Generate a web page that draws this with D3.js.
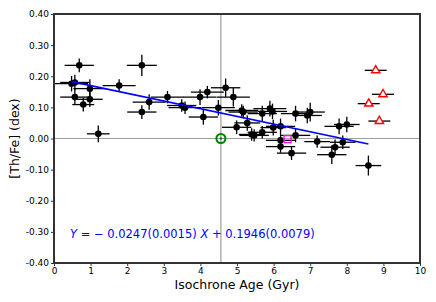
<!DOCTYPE html>
<html>
<head>
<meta charset="utf-8">
<script src="https://cdn.jsdelivr.net/npm/d3@7"></script>
<style>
  body { margin: 0; background: #fff; }
  text { font-family: "DejaVu Sans", sans-serif; }
</style>
</head>
<body>
<div id="chart"></div>
<script>
const width = 436;
const height = 302;
const margin = {top: 14, right: 16, bottom: 39, left: 54};

// solar twins: isochrone age (Gyr) vs [Th/Fe]
const age    = [0.69, 2.40, 0.48, 0.57, 0.98, 1.78, 0.57, 0.98, 0.80, 1.21, 2.40, 2.60, 3.10, 3.58, 3.49, 3.99, 4.19, 4.08, 4.49, 4.69,
                4.90, 5.13, 5.17, 4.99, 5.28, 5.40, 5.47, 5.69, 5.69, 5.90, 5.97, 5.99, 6.19, 6.19, 6.60, 6.60, 6.92, 7.00, 7.19, 7.79,
                8.00, 7.89, 7.68, 6.19, 6.49, 7.59, 8.59];
const thfe   = [0.235, 0.235, 0.176, 0.180, 0.160, 0.170, 0.133, 0.126, 0.109, 0.015, 0.085, 0.117, 0.133, 0.099, 0.106, 0.133, 0.149, 0.069, 0.099, 0.163,
                0.133, 0.090, 0.085, 0.036, 0.050, 0.013, 0.010, 0.080, 0.020, 0.096, 0.087, 0.035, 0.039, -0.006, 0.080, 0.010, 0.074, 0.085, -0.010, 0.039,
                0.045, -0.012, -0.028, -0.026, -0.047, -0.052, -0.087];
const ageErr = [0.40, 0.41, 0.45, 0.40, 0.45, 0.45, 0.40, 0.35, 0.30, 0.31, 0.40, 0.45, 0.45, 0.45, 0.40, 0.45, 0.45, 0.40, 0.45, 0.40,
                0.45, 0.45, 0.40, 0.40, 0.35, 0.35, 0.40, 0.40, 0.40, 0.45, 0.40, 0.35, 0.40, 0.40, 0.40, 0.40, 0.40, 0.40, 0.35, 0.40,
                0.35, 0.35, 0.40, 0.40, 0.40, 0.40, 0.35];
const thfeErr = [0.022, 0.034, 0.025, 0.025, 0.030, 0.020, 0.025, 0.025, 0.022, 0.027, 0.022, 0.025, 0.020, 0.020, 0.020, 0.025, 0.020, 0.025, 0.025, 0.030,
                 0.030, 0.020, 0.020, 0.022, 0.025, 0.020, 0.020, 0.025, 0.020, 0.025, 0.025, 0.025, 0.025, 0.020, 0.025, 0.022, 0.025, 0.030, 0.020, 0.025,
                 0.025, 0.022, 0.025, 0.020, 0.022, 0.030, 0.032];

// old outliers (open triangles, no vertical error)
const oldAge    = [8.79, 8.99, 8.60, 8.89];
const oldThfe   = [0.219, 0.142, 0.112, 0.056];
const oldAgeErr = [0.30, 0.30, 0.30, 0.30];

// Sun and one reference star
const sun = {age: 4.56, thfe: 0.0};
const refStar = {age: 6.38, thfe: -0.002};

// linear fit
const slope = -0.0247, intercept = 0.1946;
const fitRange = [0.48, 8.59];

const xTicks = d3.range(0, 11, 1);
const yTicks = [0.40, 0.30, 0.20, 0.10, 0.00, -0.10, -0.20, -0.30, -0.40];

const x = d3.scaleLinear().domain([0, 10]).range([margin.left, width - margin.right]);
const y = d3.scaleLinear().domain([-0.4, 0.4]).range([height - margin.bottom, margin.top]);

const svg = d3.select("#chart").append("svg")
  .attr("width", width)
  .attr("height", height);

// reference lines
svg.append("line")
  .attr("x1", x(0)).attr("x2", x(10))
  .attr("y1", y(0)).attr("y2", y(0))
  .attr("stroke", "#9aa09a").attr("stroke-width", 1.2);
svg.append("line")
  .attr("x1", x(sun.age)).attr("x2", x(sun.age))
  .attr("y1", y(-0.4)).attr("y2", y(0.4))
  .attr("stroke", "#9aa09a").attr("stroke-width", 1.2);

const pts = age.map((a, i) => ({a, v: thfe[i], ea: ageErr[i], ev: thfeErr[i]}));

// error bars
const eb = svg.append("g").attr("stroke", "#000").attr("stroke-width", 1.3);
eb.selectAll("line.h")
  .data(pts)
  .join("line")
  .attr("class", "h")
  .attr("x1", d => x(d.a - d.ea)).attr("x2", d => x(d.a + d.ea))
  .attr("y1", d => y(d.v)).attr("y2", d => y(d.v));
eb.selectAll("line.v")
  .data(pts)
  .join("line")
  .attr("class", "v")
  .attr("x1", d => x(d.a)).attr("x2", d => x(d.a))
  .attr("y1", d => y(d.v - d.ev)).attr("y2", d => y(d.v + d.ev));

svg.append("g")
  .selectAll("circle")
  .data(pts)
  .join("circle")
  .attr("cx", d => x(d.a))
  .attr("cy", d => y(d.v))
  .attr("r", 3.3)
  .attr("fill", "#000");

// triangles
const old = oldAge.map((a, i) => ({a, v: oldThfe[i], ea: oldAgeErr[i]}));
svg.append("g")
  .selectAll("line")
  .data(old)
  .join("line")
  .attr("x1", d => x(d.a - d.ea)).attr("x2", d => x(d.a + d.ea))
  .attr("y1", d => y(d.v)).attr("y2", d => y(d.v))
  .attr("stroke", "#000").attr("stroke-width", 1.3);
svg.append("g")
  .selectAll("path")
  .data(old)
  .join("path")
  .attr("transform", d => `translate(${x(d.a)},${y(d.v)})`)
  .attr("d", d3.symbol(d3.symbolTriangle, 30))
  .attr("fill", "#fff")
  .attr("stroke", "red")
  .attr("stroke-width", 1.4);

// fit line
svg.append("line")
  .attr("x1", x(fitRange[0])).attr("y1", y(intercept + slope * fitRange[0]))
  .attr("x2", x(fitRange[1])).attr("y2", y(intercept + slope * fitRange[1]))
  .attr("stroke", "#0000ff").attr("stroke-width", 1.6);

// reference star (open magenta square)
svg.append("rect")
  .attr("x", x(refStar.age) - 3.5).attr("y", y(refStar.thfe) - 3.5)
  .attr("width", 7).attr("height", 7)
  .attr("fill", "none").attr("stroke", "#ff00ff").attr("stroke-width", 1.3);

// sun symbol
svg.append("circle")
  .attr("cx", x(sun.age)).attr("cy", y(sun.thfe)).attr("r", 4.5)
  .attr("fill", "none").attr("stroke", "#008000").attr("stroke-width", 2);
svg.append("circle")
  .attr("cx", x(sun.age)).attr("cy", y(sun.thfe)).attr("r", 1.2)
  .attr("fill", "#008000");

// axes
const xAxis = svg.append("g")
  .attr("transform", `translate(0,${height - margin.bottom})`)
  .call(d3.axisBottom(x).tickValues(xTicks).tickSize(3).tickPadding(2).tickFormat(d3.format("d")));
const yAxis = svg.append("g")
  .attr("transform", `translate(${margin.left},0)`)
  .call(d3.axisLeft(y).tickValues(yTicks).tickSize(3).tickPadding(2).tickFormat(d => d3.format(".2f")(d).replace("−", "-")));
[xAxis, yAxis].forEach(ax => {
  ax.select(".domain").remove();
  ax.selectAll("text").attr("font-size", 9).attr("fill", "#000").attr("font-family", "DejaVu Sans");
  ax.selectAll(".tick line").attr("stroke", "#333").attr("stroke-width", 1);
});

// frame
svg.append("rect")
  .attr("x", margin.left).attr("y", margin.top)
  .attr("width", width - margin.left - margin.right)
  .attr("height", height - margin.top - margin.bottom)
  .attr("fill", "none").attr("stroke", "#333").attr("stroke-width", 2);

// labels
svg.append("text")
  .attr("x", (margin.left + width - margin.right) / 2)
  .attr("y", 289)
  .attr("text-anchor", "middle")
  .attr("font-size", 12.5)
  .text("Isochrone Age (Gyr)");
svg.append("text")
  .attr("transform", `translate(19,${(margin.top + height - margin.bottom) / 2}) rotate(-90)`)
  .attr("text-anchor", "middle")
  .attr("font-size", 12.5)
  .text("[Th/Fe] (dex)");

// fit equation
const eq = svg.append("text")
  .attr("x", 70).attr("y", 238)
  .attr("font-size", 11.5)
  .attr("fill", "#0000ff");
eq.append("tspan").attr("font-style", "italic").text("Y");
eq.append("tspan").text(" = \u2212 0.0247(0.0015) ");
eq.append("tspan").attr("font-style", "italic").text("X");
eq.append("tspan").text(" + 0.1946(0.0079)");
</script>
</body>
</html>
